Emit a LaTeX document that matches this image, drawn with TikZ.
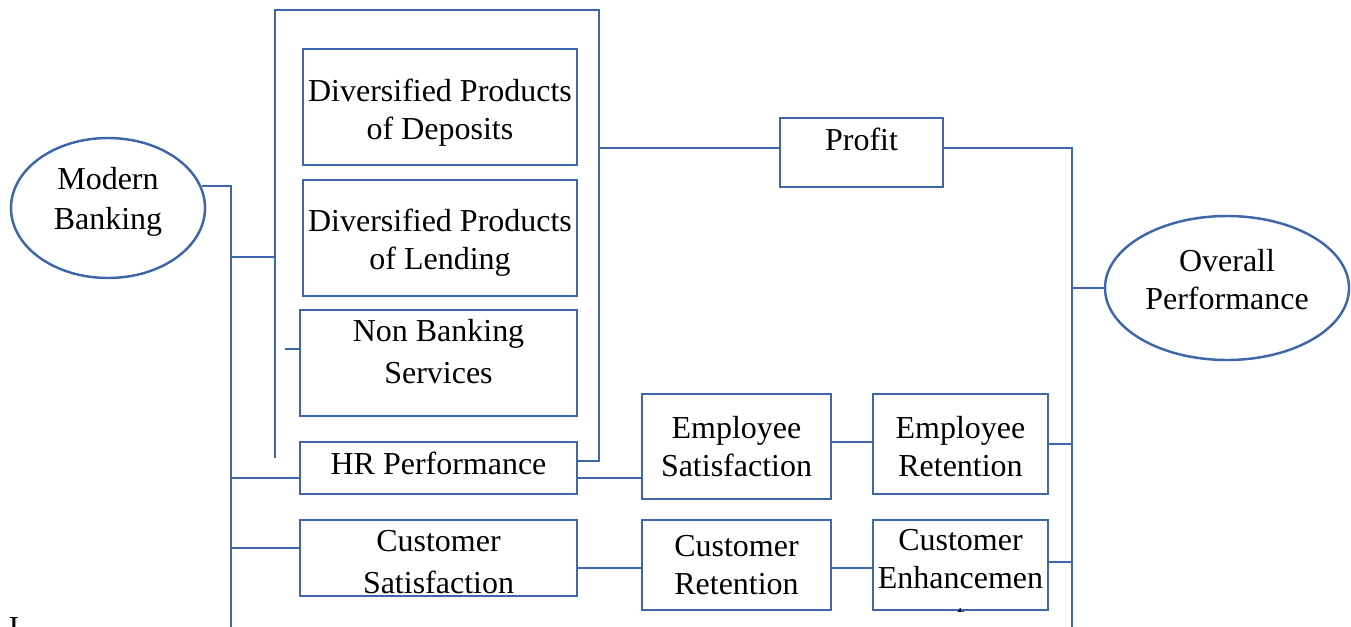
\documentclass[tikz,border=0pt]{standalone}
\usepackage{fontspec}
\setmainfont{Liberation Serif}
\usetikzlibrary{shapes,calc}

\definecolor{lineblue}{RGB}{62,102,170}

\begin{document}
\begin{tikzpicture}[
  box/.style={draw=lineblue,line width=0.7pt,align=center,inner sep=0pt},
  oval/.style={box,ellipse},
  link/.style={draw=lineblue,line width=0.6pt},
  every node/.append style={font=\fontsize{9.1}{10.8}\selectfont}
]
  \useasboundingbox (0,0) rectangle (13.51,-6.26);
  % Start and end ovals
  \path (1.08,-2.08) node[oval,minimum width=1.94cm,minimum height=1.40cm,text depth=0.19cm] (MB) {Modern\\[0.6pt]Banking};
  \path (12.27,-2.88) node[oval,minimum width=2.44cm,minimum height=1.44cm,text depth=0.18cm] (OP) {Overall\\Performance};
  % Boxes in the left column
  \path (4.40,-1.07) node[box,minimum width=2.74cm,minimum height=1.16cm] (DPD) {\rule{0pt}{0.34cm}Diversified Products\\of Deposits};
  \path (4.40,-2.38) node[box,minimum width=2.74cm,minimum height=1.16cm] (DPL) {\rule{0pt}{0.32cm}Diversified Products\\of Lending};
  \path (4.385,-3.63) node[box,minimum width=2.77cm,minimum height=1.06cm,text depth=0.24cm] (NBS) {Non Banking\\[1.2pt]Services};
  \path (4.385,-4.68) node[box,minimum width=2.77cm,minimum height=0.52cm,text depth=0.10cm] (HR) {HR Performance};
  \path (4.385,-5.58) node[box,minimum width=2.77cm,minimum height=0.76cm] (CS) {\rule{0pt}{0.29cm}Customer\\[1.2pt]Satisfaction};
  % Boxes further right
  \path (8.615,-1.525) node[box,minimum width=1.63cm,minimum height=0.69cm,text depth=0.26cm] (Profit) {Profit};
  \path (7.365,-4.465) node[box,minimum width=1.89cm,minimum height=1.05cm] (ES) {Employee\\Satisfaction};
  \path (9.605,-4.44) node[box,minimum width=1.75cm,minimum height=1.00cm] (ER) {\rule{0pt}{0.28cm}Employee\\Retention};
  \path (7.365,-5.65) node[box,minimum width=1.89cm,minimum height=0.90cm] (CR) {Customer\\Retention};
  \path (9.605,-5.65) node[box,minimum width=1.75cm,minimum height=0.90cm,text depth=0.12cm] (CE) {Customer\\Enhancemen};
  % last letter runs out of its box
  \begin{scope}
    \clip (CE.south west) rectangle (CE.north east);
    \node[anchor=base,inner sep=0pt] (CEt) at ($(CE.south)+(0,-0.15)$) {t};
  \end{scope}
  \node[anchor=base,inner sep=0pt] (cut) at (0.14,-6.38) {I};
  % Bus lines and the bracket round the product boxes
  \coordinate (busL) at (2.31,-6.30);
  \coordinate (busR) at (10.72,-6.30);
  \coordinate (brB) at (2.75,-4.58);
  \coordinate (brTR) at (5.99,-0.10);
  \coordinate (brJ) at (2.75,-2.57);
  \draw[link] (MB.13) -| (busL);
  \draw[link] (brJ -| busL) -- (brJ);
  \draw[link] (brB) |- (brTR) |- ([yshift=0.07cm]HR.east);
  \draw[link] ([yshift=0.14cm]NBS.west) -- ++(-0.14,0);
  \draw[link] ([yshift=-0.10cm]HR.west) -- ([yshift=-0.10cm]HR.west -| busL);
  \draw[link] ([yshift=0.10cm]CS.west) -- ([yshift=0.10cm]CS.west -| busL);
  % Right hand side
  \draw[link] ([yshift=0.045cm]Profit.west) -- ([yshift=0.045cm]Profit.west -| brTR);
  \draw[link] ([yshift=0.045cm]Profit.east) -| (busR);
  \draw[link] (OP.west) -- (OP.west -| busR);
  \draw[link] ([yshift=-0.10cm]HR.east) -- ([yshift=-0.10cm]HR.east -| ES.west);
  \draw[link] ([yshift=0.045cm]ES.east) -- ([yshift=0.045cm]ES.east -| ER.west);
  \draw[link] (ER.east) -- (ER.east -| busR);
  \draw[link] ([yshift=-0.10cm]CS.east) -- ([yshift=-0.10cm]CS.east -| CR.west);
  \draw[link] ([yshift=-0.03cm]CR.east) -- ([yshift=-0.03cm]CR.east -| CE.west);
  \draw[link] ([yshift=0.03cm]CE.east) -- ([yshift=0.03cm]CE.east -| busR);
\end{tikzpicture}
\end{document}
